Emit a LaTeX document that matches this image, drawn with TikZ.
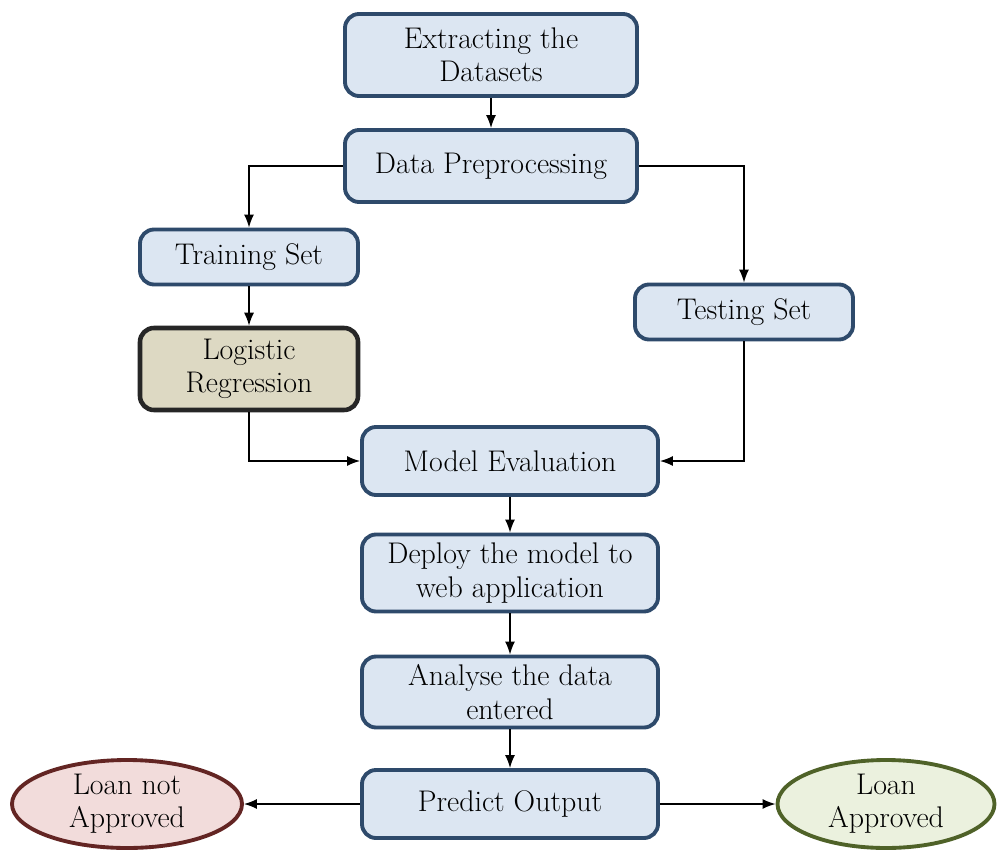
\documentclass[tikz,border=0pt]{standalone}
\usetikzlibrary{positioning,arrows.meta,shapes.geometric}
\definecolor{boxfill}{HTML}{DCE6F2}
\definecolor{boxline}{HTML}{2E4A6B}
\definecolor{modelfill}{HTML}{DDD9C3}
\definecolor{modelline}{HTML}{262626}
\definecolor{nofill}{HTML}{F2DCDB}
\definecolor{noline}{HTML}{632523}
\definecolor{yesfill}{HTML}{EBF1DE}
\definecolor{yesline}{HTML}{4F6228}
\tikzset{
  stage/.style={draw=boxline, fill=boxfill, line width=2.2pt, rounded corners=0.28cm,
    align=center, inner sep=0pt, minimum width=5.92cm, minimum height=1.4cm,
    font=\fontsize{17}{19}\selectfont},
  result/.style={ellipse, line width=2.2pt, align=center, inner sep=0pt,
    minimum height=1.76cm, font=\fontsize{17}{19}\selectfont},
  flow/.style={-{Latex[length=2.6mm,width=2mm]}, line width=0.8pt}
}
\begin{document}
\begin{tikzpicture}
        \useasboundingbox (0,0) rectangle (19.98,-17.04);
        \node [stage, minimum width=5.84cm, minimum height=1.64cm] (Extract) at (9.82,-1.10) {Extracting the\\Datasets};
        \node [stage, on grid, below=2.22cm of Extract, minimum width=5.84cm, minimum height=1.44cm] (Prep) {Data Preprocessing};
        \node [stage, on grid, below left=1.82cm and 4.84cm of Prep, minimum width=4.36cm, minimum height=1.1cm] (Train) {Training Set};
        \node [stage, on grid, below right=2.92cm and 5.06cm of Prep, minimum width=4.36cm, minimum height=1.1cm] (Test) {Testing Set};
        \node [stage, on grid, below=2.24cm of Train, minimum width=4.36cm, minimum height=1.64cm, draw=modelline, fill=modelfill, line width=2.6pt] (LogReg) {Logistic\\Regression};
        \node [stage, on grid, below right=1.84cm and 5.22cm of LogReg, minimum height=1.36cm] (Eval) {Model Evaluation};
        \node [stage, on grid, below=2.24cm of Eval, minimum height=1.54cm] (Deploy) {Deploy the model to\\web application};
        \node [stage, on grid, below=2.38cm of Deploy, minimum height=1.42cm] (Analyse) {Analyse the data\\entered};
        \node [stage, on grid, below=2.24cm of Analyse, minimum height=1.36cm] (Predict) {Predict Output};
        \node [result, on grid, left=7.66cm of Predict, minimum width=4.6cm, draw=noline, fill=nofill] (NotOk) {Loan not\\Approved};
        \node [result, on grid, right=7.52cm of Predict, minimum width=4.34cm, draw=yesline, fill=yesfill] (Ok) {Loan\\Approved};
        \draw [flow] (Extract) to (Prep);
        \draw [flow] (Prep.west) -| (Train.north);
        \draw [flow] (Prep.east) -| (Test.north);
        \draw [flow] (Train) to (LogReg);
        \draw [flow] (LogReg.south) |- (Eval.west);
        \draw [flow] (Test.south) |- (Eval.east);
        \draw [flow] (Eval) to (Deploy);
        \draw [flow] (Deploy) to (Analyse);
        \draw [flow] (Analyse) to (Predict);
        \draw [flow] (Predict.west) to (NotOk.east);
        \draw [flow] (Predict.east) to (Ok.west);
      \end{tikzpicture}
\end{document}
